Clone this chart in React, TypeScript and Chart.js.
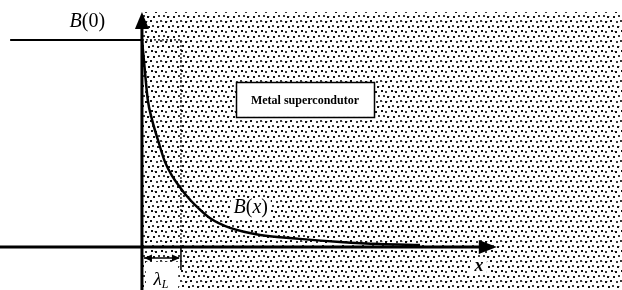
import { useEffect, useRef } from 'react';
import { Chart, registerables } from 'chart.js';

Chart.register(...registerables);

const W = 622;
const H = 290;

// Scale ranges: x in units of the penetration depth λ_L, y in units of B(0)
const X_MIN = -3.64;
const X_MAX = 12.31;
const Y_MIN = -0.208;
const Y_MAX = 1.193;

// B(x) decay curve
const curveX = [0, 0.05, 0.15, 0.26, 0.41, 0.59, 0.79, 0.97, 1.15, 1.36, 1.74, 2.26, 3.03, 4.05, 5.08, 6.1, 7.13];
const curveY = [1.0, 0.903, 0.71, 0.614, 0.517, 0.411, 0.338, 0.29, 0.246, 0.203, 0.14, 0.092, 0.058, 0.039, 0.024, 0.014, 0.01];

// Reference values
const B0 = 1;
const LAMBDA = 1;
const B0_LINE_START = -3.38;
const X_AXIS_TIP = 9.1;
const Y_AXIS_TIP = 1.135;
const STIPPLE_TOP = 1.135;
const LAMBDA_ARROW_Y = -0.053;
const LAMBDA_TICK_END = -0.111;

// Text
const LABEL_B0 = ['B', '(0)'];
const LABEL_BX = ['B', '(x)'];
const LABEL_LAMBDA = ['λ', 'L'];
const LABEL_X = 'x';
const BOX_TEXT = 'Metal supercondutor';

const SERIF = "'Liberation Serif', 'DejaVu Serif', serif";

function makePattern(ctx: CanvasRenderingContext2D): CanvasPattern | string {
  const c = document.createElement('canvas');
  c.width = 20;
  c.height = 20;
  const p = c.getContext('2d');
  if (!p) return '#ccc';
  const dark = [
    [0, 0], [5, 1], [10, 0], [16, 1],
    [2, 5], [8, 6], [12, 5], [17, 6],
    [1, 10], [5, 11], [11, 10], [15, 11],
    [3, 15], [7, 16], [13, 16], [18, 15],
  ];
  dark.forEach(([dx, dy], i) => {
    p.fillStyle = i % 3 === 0 ? '#3a3a3a' : '#111';
    p.fillRect(dx, dy, 2, 2);
  });
  p.fillStyle = 'rgba(0,0,0,0.3)';
  [[2, 1], [7, 1], [14, 11], [9, 16], [19, 6]].forEach(([dx, dy]) => p.fillRect(dx, dy, 1, 1));
  return ctx.createPattern(c, 'repeat') || '#ccc';
}

function drawMixed(
  ctx: CanvasRenderingContext2D,
  parts: { text: string; font: string; dy?: number }[],
  cx: number,
  cy: number
) {
  let total = 0;
  for (const p of parts) {
    ctx.font = p.font;
    total += ctx.measureText(p.text).width;
  }
  let x = cx - total / 2;
  ctx.textBaseline = 'middle';
  ctx.textAlign = 'left';
  for (const p of parts) {
    ctx.font = p.font;
    ctx.fillText(p.text, x, cy + (p.dy || 0));
    x += ctx.measureText(p.text).width;
  }
}

const diagramPlugin = {
  id: 'diagram',
  beforeDatasetsDraw(chart: any) {
    const { ctx, chartArea } = chart;
    const xs = chart.scales.x;
    const ys = chart.scales.y;
    const left = xs.getPixelForValue(0) + 1;
    const top = ys.getPixelForValue(STIPPLE_TOP);
    ctx.save();
    ctx.fillStyle = makePattern(ctx);
    ctx.fillRect(left, top, chartArea.right - left, chartArea.bottom - top);
    // white patches behind labels
    ctx.fillStyle = '#fff';
    const lx0 = xs.getPixelForValue(0.1);
    const lx1 = xs.getPixelForValue(0.93);
    const ly0 = ys.getPixelForValue(-0.072);
    ctx.fillRect(lx0, ly0, lx1 - lx0, chartArea.bottom - ly0);
    const xl = xs.getPixelForValue(8.64);
    const xy = ys.getPixelForValue(-0.092);
    ctx.fillRect(xl - 8, xy - 8, 16, 16);
    const bxx = xs.getPixelForValue(2.79);
    const bxy = ys.getPixelForValue(0.188);
    ctx.fillRect(bxx - 20, bxy - 9, 40, 19);
    ctx.restore();
  },
  afterDatasetsDraw(chart: any) {
    const { ctx } = chart;
    const xs = chart.scales.x;
    const ys = chart.scales.y;
    ctx.save();
    ctx.fillStyle = '#000';
    // y axis arrowhead
    const yx = xs.getPixelForValue(0);
    const yt = ys.getPixelForValue(Y_AXIS_TIP);
    ctx.beginPath();
    ctx.moveTo(yx, yt);
    ctx.lineTo(yx - 7, yt + 17);
    ctx.lineTo(yx + 7, yt + 17);
    ctx.closePath();
    ctx.fill();
    // x axis arrowhead
    const xt = xs.getPixelForValue(X_AXIS_TIP);
    const xy0 = ys.getPixelForValue(0);
    ctx.beginPath();
    ctx.moveTo(xt, xy0);
    ctx.lineTo(xt - 18, xy0 - 7);
    ctx.lineTo(xt - 18, xy0 + 7);
    ctx.closePath();
    ctx.fill();
    // λ_L double arrow heads
    const ay = ys.getPixelForValue(LAMBDA_ARROW_Y);
    const ax0 = xs.getPixelForValue(0) + 2;
    const ax1 = xs.getPixelForValue(LAMBDA) - 1;
    ctx.beginPath();
    ctx.moveTo(ax0, ay);
    ctx.lineTo(ax0 + 8, ay - 3.5);
    ctx.lineTo(ax0 + 8, ay + 3.5);
    ctx.closePath();
    ctx.fill();
    ctx.beginPath();
    ctx.moveTo(ax1, ay);
    ctx.lineTo(ax1 - 8, ay - 3.5);
    ctx.lineTo(ax1 - 8, ay + 3.5);
    ctx.closePath();
    ctx.fill();

    // box
    const bx0 = xs.getPixelForValue(2.41);
    const bx1 = xs.getPixelForValue(5.95);
    const by0 = ys.getPixelForValue(0.797);
    const by1 = ys.getPixelForValue(0.628);
    ctx.fillStyle = '#fff';
    ctx.fillRect(bx0, by0, bx1 - bx0, by1 - by0);
    ctx.strokeStyle = '#000';
    ctx.lineWidth = 1.5;
    ctx.strokeRect(Math.round(bx0) + 0.5, Math.round(by0) + 0.5, Math.round(bx1 - bx0), Math.round(by1 - by0));
    ctx.fillStyle = '#000';
    ctx.font = `bold 12px ${SERIF}`;
    ctx.textAlign = 'center';
    ctx.textBaseline = 'middle';
    ctx.fillText(BOX_TEXT, (bx0 + bx1) / 2, (by0 + by1) / 2 + 1);

    // labels
    drawMixed(
      ctx,
      [
        { text: LABEL_B0[0], font: `italic 20px ${SERIF}` },
        { text: LABEL_B0[1], font: `20px ${SERIF}` },
      ],
      xs.getPixelForValue(-1.4),
      ys.getPixelForValue(1.087)
    );
    drawMixed(
      ctx,
      [
        { text: LABEL_BX[0], font: `italic 20px ${SERIF}` },
        { text: '(', font: `20px ${SERIF}` },
        { text: 'x', font: `italic 20px ${SERIF}` },
        { text: ')', font: `20px ${SERIF}` },
      ],
      xs.getPixelForValue(2.79),
      ys.getPixelForValue(0.188)
    );
    drawMixed(
      ctx,
      [
        { text: LABEL_LAMBDA[0], font: `italic 19px ${SERIF}` },
        { text: LABEL_LAMBDA[1], font: `italic 12px ${SERIF}`, dy: 5 },
      ],
      xs.getPixelForValue(0.49),
      ys.getPixelForValue(-0.159)
    );
    drawMixed(
      ctx,
      [{ text: LABEL_X, font: `italic bold 18px ${SERIF}` }],
      xs.getPixelForValue(8.64),
      ys.getPixelForValue(-0.092)
    );
    ctx.restore();
  },
};

export default function App() {
  const ref = useRef<HTMLCanvasElement>(null);

  useEffect(() => {
    const canvas = ref.current;
    if (!canvas) return;
    const line = (data: { x: number; y: number }[], width: number, extra: any = {}) => ({
      data,
      borderColor: '#000',
      borderWidth: width,
      showLine: true,
      pointRadius: 0,
      fill: false,
      ...extra,
    });
    const chart = new Chart(canvas, {
      type: 'scatter',
      data: {
        datasets: [
          line(curveX.map((x, i) => ({ x, y: curveY[i] })), 2.5, { cubicInterpolationMode: 'monotone' }),
          line([{ x: B0_LINE_START, y: B0 }, { x: 0, y: B0 }], 2),
          line(
            [
              { x: 0, y: B0 },
              { x: LAMBDA, y: B0 },
              { x: LAMBDA, y: 0 },
            ],
            1.2,
            { borderDash: [2, 2], borderColor: '#000' }
          ),
          line([{ x: X_MIN, y: 0 }, { x: X_AXIS_TIP - 0.3, y: 0 }], 3),
          line([{ x: 0, y: Y_MIN }, { x: 0, y: Y_AXIS_TIP - 0.05 }], 3),
          line([{ x: LAMBDA, y: 0 }, { x: LAMBDA, y: LAMBDA_TICK_END }], 1.5),
          line([{ x: 0.05, y: LAMBDA_ARROW_Y }, { x: LAMBDA - 0.05, y: LAMBDA_ARROW_Y }], 1.5),
        ],
      },
      options: {
        responsive: false,
        animation: false,
        events: [],
        layout: { padding: 0 },
        plugins: { legend: { display: false }, tooltip: { enabled: false } },
        scales: {
          x: { type: 'linear', min: X_MIN, max: X_MAX, display: false },
          y: { type: 'linear', min: Y_MIN, max: Y_MAX, display: false },
        },
      },
      plugins: [diagramPlugin],
    });
    return () => chart.destroy();
  }, []);

  return (
    <div style={{ position: 'fixed', left: 0, top: 0, width: W, height: H, background: '#fff' }}>
      <canvas ref={ref} width={W} height={H} style={{ display: 'block', width: W, height: H }} />
    </div>
  );
}
